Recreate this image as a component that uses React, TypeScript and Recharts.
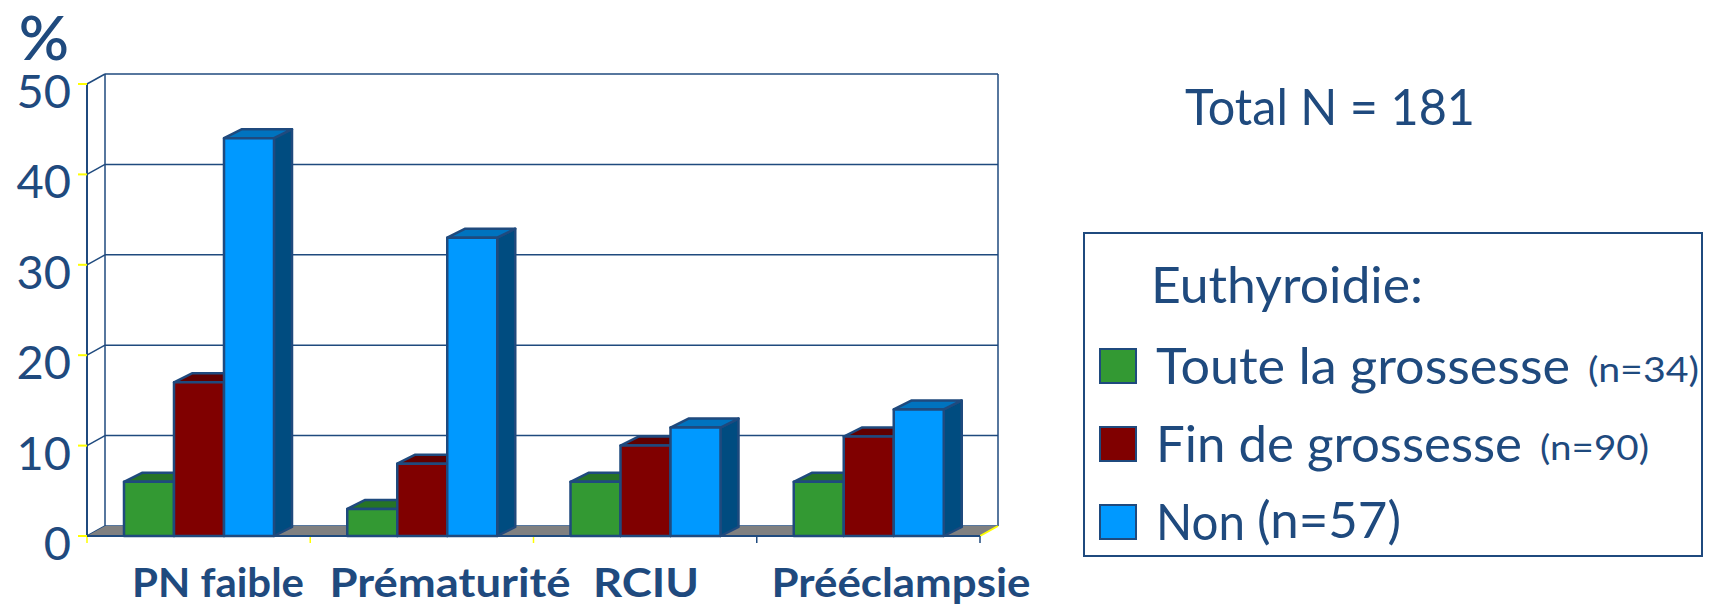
import { Bar, BarChart, CartesianGrid, Legend, XAxis, YAxis, usePlotArea } from 'recharts';

const categories = ['PN faible', 'Prématurité', 'RCIU', 'Prééclampsie'];
const touteLaGrossesse = [6, 3, 6, 6];
const finDeGrossesse = [17, 8, 10, 11];
const nonEuthyroidie = [44, 33, 12, 14];
const yTicks = [0, 10, 20, 30, 40, 50];

const data = categories.map((name, i) => ({
  name,
  toute: touteLaGrossesse[i],
  fin: finDeGrossesse[i],
  non: nonEuthyroidie[i],
}));

const FONT = '"Comic Sans MS", Lato, sans-serif';
const INK = '#1F4A7E';
const YELLOW = '#FFFF00';
const WALL_DX = 18;
const WALL_DY = 10;
const BAR_DX = 18;
const BAR_DY = 9;

// top and side shades of each bar colour
const shades: Record<string, { top: string; side: string }> = {
  '#339933': { top: '#267326', side: '#1A4D1A' },
  '#800000': { top: '#600000', side: '#400000' },
  '#0099FF': { top: '#0073BF', side: '#004C80' },
};

// category labels were placed by hand in the slide, so they sit off the band centres
const labelSpots: Record<string, { cx: number; w: number }> = {
  'PN faible': { cx: 218, w: 172 },
  'Prématurité': { cx: 450, w: 241 },
  RCIU: { cx: 646, w: 106 },
  'Prééclampsie': { cx: 901, w: 259 },
};

const Box3D = (props: any) => {
  const { x, y, width, height, fill } = props;
  const s = shades[fill];
  return (
    <g stroke={INK} strokeWidth={2.5} strokeLinejoin="round">
      <path
        d={`M${x + width},${y} l${BAR_DX},${-BAR_DY} v${height} l${-BAR_DX},${BAR_DY} Z`}
        fill={s.side}
      />
      <path
        d={`M${x},${y} l${BAR_DX},${-BAR_DY} h${width} l${-BAR_DX},${BAR_DY} Z`}
        fill={s.top}
      />
      <rect x={x} y={y} width={width} height={height} fill={fill} />
    </g>
  );
};

// floor, back wall edges and the tick marks between categories
const Walls = () => {
  const plot = usePlotArea();
  if (!plot) return null;
  const { x, y, width, height } = plot;
  const bottom = y + height;
  const right = x + width;
  const band = width / categories.length;
  const boundaries = [0, 1, 2, 3, 4];
  return (
    <g>
      <polygon
        points={`${x},${bottom} ${x + WALL_DX},${bottom - WALL_DY} ${right + WALL_DX},${bottom - WALL_DY} ${right},${bottom}`}
        fill="#808080"
      />
      <line x1={x + WALL_DX} y1={y - WALL_DY} x2={x + WALL_DX} y2={bottom - WALL_DY} stroke={INK} strokeWidth={1.5} />
      <line x1={right + WALL_DX} y1={y - WALL_DY} x2={right + WALL_DX} y2={bottom - WALL_DY} stroke={INK} strokeWidth={1.5} />
      <line x1={right} y1={bottom} x2={right + WALL_DX} y2={bottom - WALL_DY} stroke={YELLOW} strokeWidth={2} />
      {boundaries.map((b) => (
        <line
          key={b}
          x1={x + b * band}
          y1={bottom}
          x2={x + b * band}
          y2={bottom + 7}
          stroke={b < 3 ? YELLOW : INK}
          strokeWidth={1.5}
        />
      ))}
    </g>
  );
};

const backGridLine = (props: any) => {
  const { x1, y1, x2, y2, key } = props;
  return (
    <g key={key} stroke={INK} strokeWidth={1.5}>
      <line x1={x1} y1={y1} x2={x1 + WALL_DX} y2={y1 - WALL_DY} />
      <line x1={x1 + WALL_DX} y1={y1 - WALL_DY} x2={x2 + WALL_DX} y2={y2 - WALL_DY} />
    </g>
  );
};

const ValueTick = (props: any) => {
  const { x, y, payload } = props;
  return (
    <g>
      <line x1={x - 9} y1={y} x2={x} y2={y} stroke={YELLOW} strokeWidth={2} />
      <text
        x={x - 16}
        y={y + 24}
        textAnchor="end"
        fontFamily={FONT}
        fontSize={47}
        fill={INK}
      >
        {payload.value}
      </text>
    </g>
  );
};

const CategoryTick = (props: any) => {
  const { payload } = props;
  const spot = labelSpots[payload.value];
  return (
    <text
      x={spot.cx - spot.w / 2}
      y={597}
      fontFamily={FONT}
      fontWeight={700}
      fontSize={40}
      fill={INK}
      textLength={spot.w}
      lengthAdjust="spacingAndGlyphs"
    >
      {payload.value}
    </text>
  );
};

const legendRows = [
  { labelW: 414, countX: 505, countW: 111, countSize: 34 },
  { labelW: 366, countX: 457, countW: 109, countSize: 34 },
  { labelW: 89, countX: 174, countW: 144, countSize: 50 },
];

const LegendBox = ({ payload }: any) => (
  <svg width={620} height={325} style={{ display: 'block' }}>
    <rect x={1} y={1} width={618} height={323} fill="#fff" stroke={INK} strokeWidth={2} />
    <text x={68} y={71} fontFamily={FONT} fontSize={50} fill={INK} textLength={272} lengthAdjust="spacingAndGlyphs">
      Euthyroidie:
    </text>
    {(payload || []).map((entry: any, i: number) => {
      const [label, count] = entry.value.split(' (');
      const row = legendRows[i];
      const top = 117 + i * 78;
      return (
        <g key={entry.value}>
          <rect x={17} y={top} width={36} height={34} fill={entry.color} stroke={INK} strokeWidth={2} />
          <text
            x={73}
            y={top + 35}
            fontFamily={FONT}
            fontSize={50}
            fill={INK}
            textLength={row.labelW}
            lengthAdjust="spacingAndGlyphs"
          >
            {label}
          </text>
          <text
            x={row.countX}
            y={top + 33}
            fontFamily={FONT}
            fontSize={row.countSize}
            fill={INK}
            textLength={row.countW}
            lengthAdjust="spacingAndGlyphs"
          >
            {`(${count}`}
          </text>
        </g>
      );
    })}
  </svg>
);

export default function App() {
  return (
    <div style={{ position: 'absolute', left: 0, top: 0, width: 1712, height: 605, background: '#fff' }}>
      <BarChart
        width={1712}
        height={605}
        data={data}
        margin={{ top: 84, right: 732, bottom: 29, left: 27 }}
        barGap={0}
        barSize={50}
      >
        <Walls />
        <CartesianGrid vertical={false} horizontal={backGridLine} stroke={INK} />
        <XAxis
          dataKey="name"
          height={40}
          tick={<CategoryTick />}
          tickLine={false}
          interval={0}
          axisLine={{ stroke: INK, strokeWidth: 2 }}
        />
        <YAxis
          width={60}
          domain={[0, 50]}
          ticks={yTicks}
          tick={<ValueTick />}
          tickLine={false}
          tickSize={0}
          tickMargin={0}
          axisLine={{ stroke: INK, strokeWidth: 2 }}
        />
        <Legend
          layout="horizontal"
          verticalAlign="middle"
          align="center"
          itemSorter={null}
          content={<LegendBox />}
          wrapperStyle={{ position: 'absolute', left: 1083, top: 232, width: 620, height: 325 }}
        />
        <Bar dataKey="toute" name="Toute la grossesse (n=34)" fill="#339933" shape={<Box3D />} isAnimationActive={false} />
        <Bar dataKey="fin" name="Fin de grossesse (n=90)" fill="#800000" shape={<Box3D />} isAnimationActive={false} />
        <Bar dataKey="non" name="Non (n=57)" fill="#0099FF" shape={<Box3D />} isAnimationActive={false} />
        <text x={44} y={60} textAnchor="middle" fontFamily={FONT} fontSize={62} fontWeight={600} fill={INK}>
          %
        </text>
        <text x={1185} y={125} fontFamily={FONT} fontSize={50} fill={INK} textLength={290} lengthAdjust="spacingAndGlyphs">
          Total N = 181
        </text>
      </BarChart>
    </div>
  );
}
